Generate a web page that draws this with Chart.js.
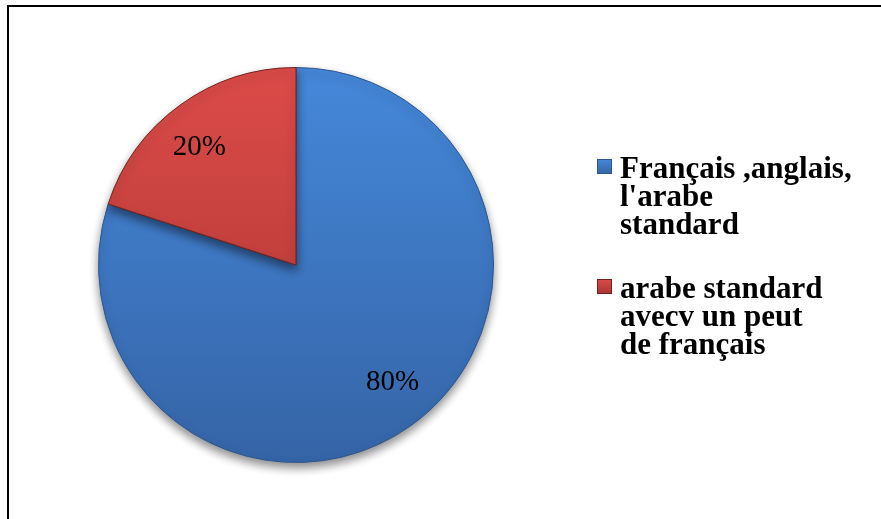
<!DOCTYPE html>
<html>
<head>
<meta charset="utf-8">
<script src="https://cdn.jsdelivr.net/npm/chart.js@4.4.1/dist/chart.umd.min.js"></script>
<style>
  html, body { margin: 0; padding: 0; background: #fff; overflow: hidden; }
  #frame { position: absolute; left: 7px; top: 5px; width: 1000px; height: 1000px; border: 2px solid #000; }
  #wrap { position: absolute; left: 0; top: 0; width: 881px; height: 519px; }
</style>
</head>
<body>
<div id="frame"></div>
<div id="wrap"><canvas id="pieChart"></canvas></div>
<script>
// Données du graphique
const categories = [
    ['Français ,anglais,', "l'arabe", 'standard'],
    ['arabe standard', 'avecv un peut', 'de français']
];
const shares = [80, 20];

// Couleurs (haut / bas du dégradé, bordure)
const sliceTop = ['#4588da', '#dc4b48'];
const sliceBottom = ['#3564a6', '#a83532'];
const sliceEdge = ['#2b5690', '#6e211e'];

function sliceFill(context) {
    const i = context.dataIndex;
    const area = context.chart.chartArea;
    if (!area) {
        return sliceTop[i];
    }
    const g = context.chart.ctx.createLinearGradient(0, area.top, 0, area.bottom);
    g.addColorStop(0, sliceTop[i]);
    g.addColorStop(1, sliceBottom[i]);
    return g;
}

// Ombre sous le camembert
const pieShadow = {
    id: 'pieShadow',
    beforeDatasetsDraw(chart) {
        const ctx = chart.ctx;
        ctx.save();
        ctx.shadowColor = 'rgba(0, 0, 0, 0.45)';
        ctx.shadowBlur = 10;
        ctx.shadowOffsetY = 5;
    },
    afterDatasetsDraw(chart) {
        chart.ctx.restore();
    }
};

// Pourcentages dans les parts
const percentLabels = {
    id: 'percentLabels',
    afterDatasetsDraw(chart) {
        const ctx = chart.ctx;
        const meta = chart.getDatasetMeta(0);
        const total = shares.reduce((a, b) => a + b, 0);
        ctx.save();
        ctx.font = '29px "Liberation Serif", "Times New Roman", serif';
        ctx.fillStyle = '#000';
        ctx.textAlign = 'center';
        ctx.textBaseline = 'middle';
        meta.data.forEach((arc, i) => {
            const p = arc.getProps(['x', 'y', 'startAngle', 'endAngle', 'outerRadius'], true);
            const mid = (p.startAngle + p.endAngle) / 2 - 0.06;
            const r = p.outerRadius * 0.77;
            const text = Math.round(shares[i] / total * 100) + '%';
            ctx.fillText(text, p.x + Math.cos(mid) * r, p.y + Math.sin(mid) * r);
        });
        ctx.restore();
    }
};

// Légende à droite
const sideLegend = {
    id: 'sideLegend',
    afterDraw(chart) {
        const ctx = chart.ctx;
        const area = chart.chartArea;
        const x0 = area.right + 103;
        const lineHeight = 28;
        const gap = 36;
        let baseline = (area.top + area.bottom) / 2 - 87;
        ctx.save();
        ctx.font = 'bold 31px "Liberation Serif", "Times New Roman", serif';
        ctx.textBaseline = 'alphabetic';
        chart.data.labels.forEach((lines, i) => {
            const top = baseline - 19;
            const g = ctx.createLinearGradient(0, top, 0, top + 15);
            g.addColorStop(0, sliceTop[i]);
            g.addColorStop(1, sliceBottom[i]);
            ctx.fillStyle = g;
            ctx.fillRect(x0, top, 15, 15);
            ctx.strokeStyle = sliceEdge[i];
            ctx.lineWidth = 1;
            ctx.strokeRect(x0 + 0.5, top + 0.5, 14, 14);
            ctx.fillStyle = '#000';
            lines.forEach((line, j) => {
                ctx.fillText(line, x0 + 23, baseline + j * lineHeight);
            });
            baseline += lines.length * lineHeight + gap;
        });
        ctx.restore();
    }
};

new Chart(document.getElementById('pieChart'), {
    type: 'pie',
    data: {
        labels: categories,
        datasets: [{
            data: shares,
            backgroundColor: sliceFill,
            borderColor: sliceEdge,
            borderWidth: 1
        }]
    },
    options: {
        responsive: true,
        maintainAspectRatio: false,
        animation: false,
        layout: {
            padding: { left: 98, right: 387, top: 67, bottom: 56 }
        },
        plugins: {
            legend: { display: false },
            tooltip: { enabled: false }
        }
    },
    plugins: [pieShadow, percentLabels, sideLegend]
});
</script>
</body>
</html>
